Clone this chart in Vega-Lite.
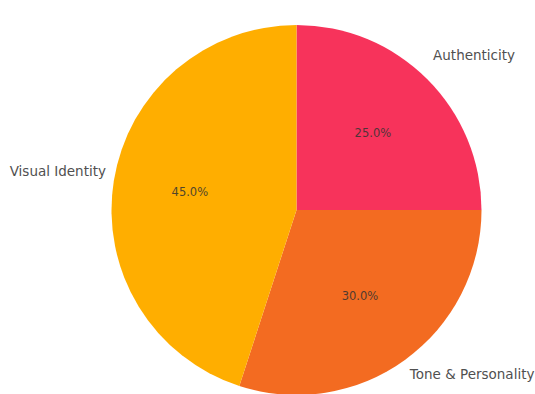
{
  "$schema": "https://vega.github.io/schema/vega-lite/v6.json",
  "autosize": "none",
  "width": 477,
  "height": 368,
  "padding": {"left": 58, "top": 26, "right": 0, "bottom": 0},
  "background": "white",
  "config": {"view": {"stroke": null}},
  "data": {
    "values": [
      {"category": "Authenticity", "value": 25, "order": 1, "pct": "25.0%"},
      {"category": "Tone & Personality", "value": 30, "order": 2, "pct": "30.0%"},
      {"category": "Visual Identity", "value": 45, "order": 3, "pct": "45.0%"}
    ]
  },
  "encoding": {
    "theta": {"field": "value", "type": "quantitative", "stack": true},
    "order": {"field": "order", "type": "quantitative"}
  },
  "layer": [
    {
      "mark": {"type": "arc", "outerRadius": 185},
      "encoding": {
        "color": {
          "field": "category",
          "type": "nominal",
          "scale": {
            "domain": ["Authenticity", "Tone & Personality", "Visual Identity"],
            "range": ["#F7335B", "#F36B21", "#FFAE00"]
          },
          "legend": null
        }
      }
    },
    {
      "mark": {"type": "text", "radius": 108, "font": "DejaVu Sans", "fontSize": 11.5, "fill": "#333", "opacity": 0.85, "baseline": "middle"},
      "encoding": {"text": {"field": "pct"}}
    },
    {
      "mark": {"type": "text", "radius": 203, "dx": -7, "dy": -10, "align": "left", "baseline": "middle", "font": "DejaVu Sans", "fontSize": 13.5, "fill": "#505050"},
      "encoding": {"text": {"condition": {"test": "datum.category === 'Authenticity'", "field": "category"}, "value": ""}}
    },
    {
      "mark": {"type": "text", "radius": 203, "dx": -6, "dy": 1, "align": "left", "baseline": "middle", "font": "DejaVu Sans", "fontSize": 13.5, "fill": "#505050"},
      "encoding": {"text": {"condition": {"test": "datum.category === 'Tone & Personality'", "field": "category"}, "value": ""}}
    },
    {
      "mark": {"type": "text", "radius": 203, "dx": 10, "dy": -6, "align": "right", "baseline": "middle", "font": "DejaVu Sans", "fontSize": 13.5, "fill": "#505050"},
      "encoding": {"text": {"condition": {"test": "datum.category === 'Visual Identity'", "field": "category"}, "value": ""}}
    }
  ]
}
